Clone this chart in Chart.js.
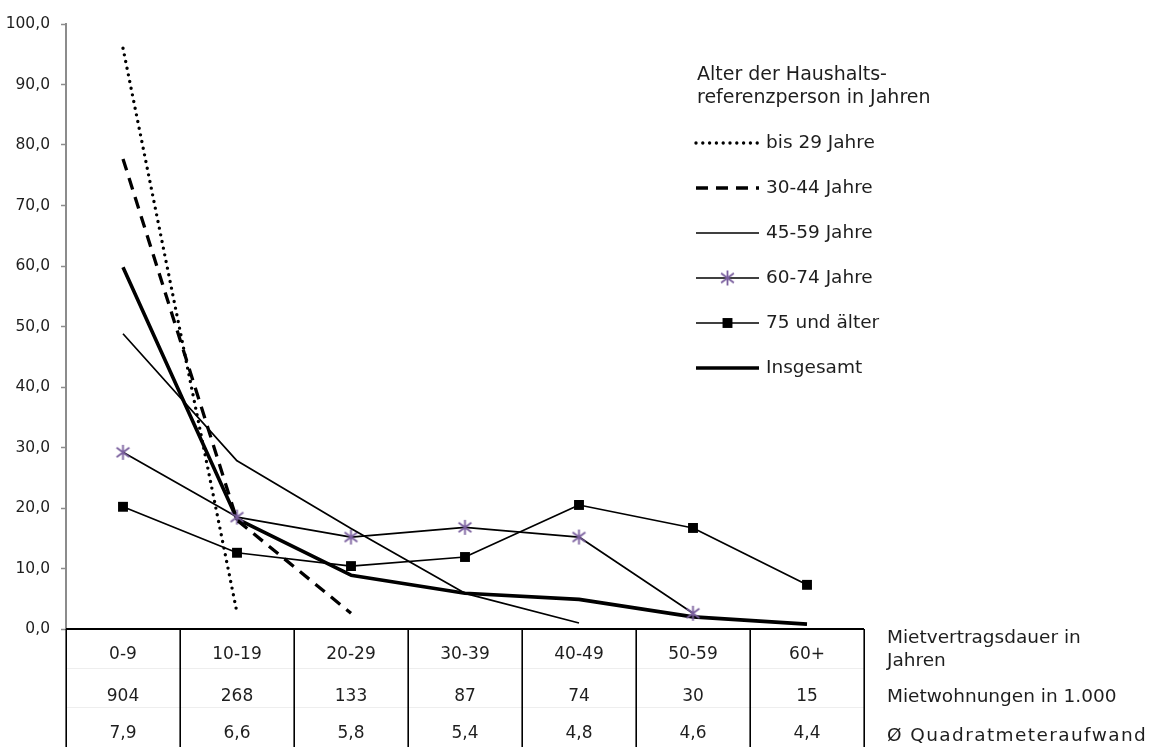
<!DOCTYPE html>
<html>
<head>
<meta charset="utf-8">
<script src="https://cdn.jsdelivr.net/npm/chart.js@4/dist/chart.umd.min.js"></script>
<style>
  html, body { margin: 0; padding: 0; background: #fff; }
  #wrap { width: 1153px; height: 747px; position: relative; }
</style>
</head>
<body>
<div id="wrap"><canvas id="c" width="1153" height="747"></canvas></div>
<script>
// Rental contract duration classes (x categories) and table rows below the axis
const categories = ['0-9', '10-19', '20-29', '30-39', '40-49', '50-59', '60+'];
const apartments = ['904', '268', '133', '87', '74', '30', '15'];
const sqmCost = ['7,9', '6,6', '5,8', '5,4', '4,8', '4,6', '4,4'];
const rowLabels = [['Mietvertragsdauer in', 'Jahren'], ['Mietwohnungen in 1.000'], ['Ø Quadratmeteraufwand']];
const legendTitle = ['Alter der Haushalts-', 'referenzperson in Jahren'];
const seriesNames = ['bis 29 Jahre', '30-44 Jahre', '45-59 Jahre', '60-74 Jahre', '75 und älter', 'Insgesamt'];

// Values per age group of the household reference person
const bis29 = [96.0, 2.7, null, null, null, null, null];
const age30to44 = [77.7, 18.0, 2.6, null, null, null, null];
const age45to59 = [48.8, 27.8, 16.6, 5.9, 1.0, null, null];
const age60to74 = [29.2, 18.5, 15.2, 16.8, 15.2, 2.6, null];
const age75plus = [20.2, 12.6, 10.4, 11.9, 20.5, 16.7, 7.3];
const total = [59.8, 18.2, 8.9, 5.9, 4.9, 2.0, 0.8];

const FONT = 'DejaVu Sans';
const TEXT = '#1e1e1e';
const PURPLE = '#7a5f9e';

// asterisk marker (vertical bar plus an X)
function makeStar(size, color) {
  const cv = document.createElement('canvas');
  cv.width = size; cv.height = size;
  const g = cv.getContext('2d');
  const c = size / 2, r = size / 2 - 1;
  g.strokeStyle = color; g.lineWidth = 1.8; g.lineCap = 'butt';
  g.beginPath();
  g.moveTo(c, c - r); g.lineTo(c, c + r);
  const d = r * 0.85;
  g.moveTo(c - d, c - d * 0.75); g.lineTo(c + d, c + d * 0.75);
  g.moveTo(c + d, c - d * 0.75); g.lineTo(c - d, c + d * 0.75);
  g.stroke();
  return cv;
}
const starImg = makeStar(17, PURPLE);

const datasets = [
  { label: seriesNames[0], data: bis29, borderColor: '#000', borderWidth: 3.4, borderDash: [0, 6.8], borderCapStyle: 'round', pointRadius: 0 },
  { label: seriesNames[1], data: age30to44, borderColor: '#000', borderWidth: 3.3, borderDash: [12, 8], borderCapStyle: 'butt', pointRadius: 0 },
  { label: seriesNames[2], data: age45to59, borderColor: '#000', borderWidth: 1.7, pointRadius: 0 },
  { label: seriesNames[3], data: age60to74, borderColor: '#000', borderWidth: 1.7, pointStyle: starImg, pointRadius: 8 },
  { label: seriesNames[4], data: age75plus, borderColor: '#000', borderWidth: 1.7, pointStyle: 'rect', pointRadius: 7, pointBackgroundColor: '#000', pointBorderWidth: 0 },
  { label: seriesNames[5], data: total, borderColor: '#000', borderWidth: 3.6, pointRadius: 0 }
];
datasets.forEach(d => { d.fill = false; d.tension = 0; d.spanGaps = false; d.borderJoinStyle = 'round'; });

// table under the plot, right-hand row captions and the legend block
const tablePlugin = {
  id: 'tableAndLegend',
  afterDraw(chart) {
    const ctx = chart.ctx;
    const area = chart.chartArea;
    const xs = chart.scales.x;
    const colW = (area.right - area.left) / categories.length;
    const H = chart.height;
    ctx.save();

    // faint row separators
    ctx.strokeStyle = '#eeeeee'; ctx.lineWidth = 1;
    [668.5, 707.5].forEach(y => {
      ctx.beginPath(); ctx.moveTo(area.left, y); ctx.lineTo(area.right, y); ctx.stroke();
    });

    // axis line / table top
    ctx.strokeStyle = '#000'; ctx.lineWidth = 2.2;
    ctx.beginPath(); ctx.moveTo(area.left, area.bottom); ctx.lineTo(area.right, area.bottom); ctx.stroke();

    // column separators
    ctx.lineWidth = 1.6;
    for (let i = 0; i <= categories.length; i++) {
      const x = Math.round(area.left + i * colW) + 0.2;
      ctx.beginPath(); ctx.moveTo(x, area.bottom); ctx.lineTo(x, H); ctx.stroke();
    }

    // cell texts
    ctx.fillStyle = TEXT;
    ctx.font = '17px "' + FONT + '"';
    ctx.textAlign = 'center'; ctx.textBaseline = 'middle';
    categories.forEach((c, i) => {
      const x = xs.getPixelForValue(i);
      ctx.fillText(c, x, 655);
      ctx.fillText(apartments[i], x, 697);
      ctx.fillText(sqmCost[i], x, 734);
    });

    // row captions
    ctx.font = '18.5px "' + FONT + '"';
    ctx.textAlign = 'left';
    const rx = area.right + 23;
    ctx.fillText(rowLabels[0][0], rx, 638);
    ctx.fillText(rowLabels[0][1], rx, 661);
    ctx.fillText(rowLabels[1][0], rx, 697);
    ctx.letterSpacing = '1.4px';
    ctx.fillText(rowLabels[2][0], rx, 736);
    ctx.letterSpacing = '0px';

    // legend
    ctx.font = '19px "' + FONT + '"';
    ctx.fillText(legendTitle[0], 697, 75);
    ctx.fillText(legendTitle[1], 697, 98);
    ctx.font = '18.5px "' + FONT + '"';
    const x0 = 696, x1 = 759;
    chart.data.datasets.forEach((ds, i) => {
      const y = 143 + 45 * i;
      ctx.save();
      ctx.strokeStyle = ds.borderColor;
      ctx.lineWidth = ds.borderWidth;
      ctx.lineCap = ds.borderCapStyle || 'butt';
      ctx.setLineDash(ds.borderDash || []);
      ctx.beginPath(); ctx.moveTo(x0, y); ctx.lineTo(x1, y); ctx.stroke();
      ctx.restore();
      const mx = (x0 + x1) / 2;
      if (ds.pointStyle === 'rect') {
        const s = ds.pointRadius * Math.SQRT1_2;
        ctx.fillStyle = '#000';
        ctx.fillRect(mx - s, y - s, 2 * s, 2 * s);
      } else if (ds.pointStyle && ds.pointStyle.getContext) {
        ctx.drawImage(ds.pointStyle, mx - ds.pointStyle.width / 2, y - ds.pointStyle.height / 2);
      }
      ctx.fillStyle = TEXT;
      ctx.fillText(ds.label, 766, y);
    });
    ctx.restore();
  }
};

new Chart(document.getElementById('c'), {
  type: 'line',
  data: { labels: categories, datasets },
  options: {
    responsive: false,
    animation: false,
    devicePixelRatio: 1,
    layout: { padding: { top: 24, right: 289, bottom: 118, left: 0 } },
    plugins: { legend: { display: false }, tooltip: { enabled: false } },
    scales: {
      x: { type: 'category', offset: true, display: false },
      y: {
        min: 0, max: 100,
        ticks: {
          stepSize: 10,
          padding: 11,
          color: TEXT,
          font: { family: FONT, size: 15.5 },
          callback: v => v.toFixed(1).replace('.', ',')
        },
        grid: { drawOnChartArea: false, drawTicks: true, tickLength: 5, tickColor: '#8c8c8c', tickWidth: 1.5 },
        border: { color: '#8c8c8c', width: 2 },
        afterFit(scale) { scale.width = 66; }
      }
    }
  },
  plugins: [tablePlugin]
});
</script>
</body>
</html>
